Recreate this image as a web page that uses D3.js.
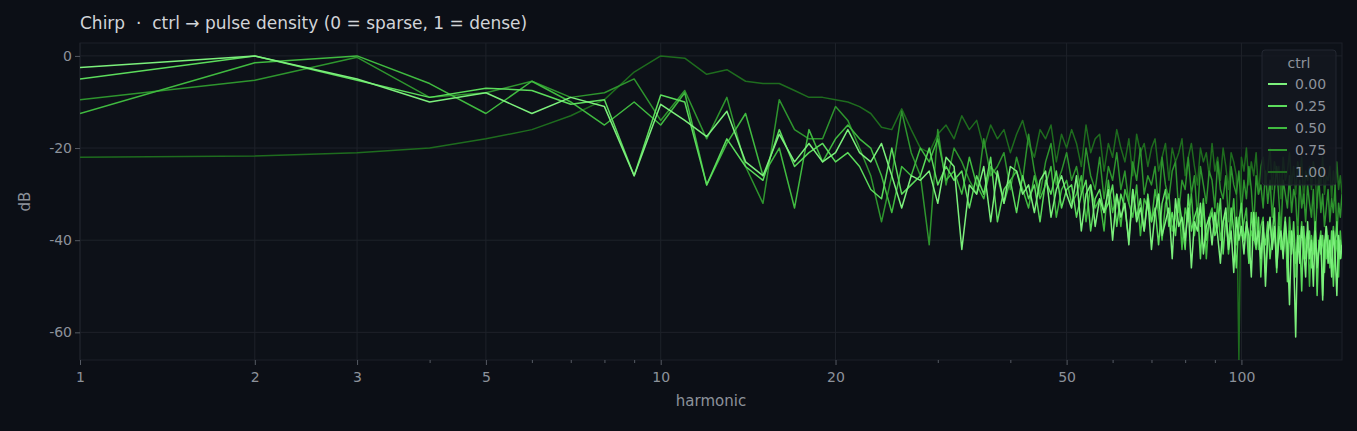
<!DOCTYPE html>
<html>
<head>
<meta charset="utf-8">
<title>chirp</title>
<style>
  body { margin: 0; background: #0c0f16; }
  text { font-family: "DejaVu Sans", sans-serif; }
</style>
</head>
<body>
<script src="https://cdnjs.cloudflare.com/ajax/libs/d3/7.8.5/d3.min.js"></script>
<script>
const width = 1357, height = 431;
const m = { left: 80, right: 15, top: 43, bottom: 71 };

const ctrlLabels = ["0.00", "0.25", "0.50", "0.75", "1.00"];
const colors = ["#7cf07c", "#5cdc5c", "#40ba40", "#2e952e", "#1e6c1e"];
const xTicks = [1, 2, 3, 5, 10, 20, 50, 100];
const minorTicks = [4, 6, 7, 8, 9, 30, 40, 60, 70, 80, 90];
const yTicks = [0, -20, -40, -60];

// dB per harmonic 1..149
const s000 = [
  -2.5,0,-5,-10,-8,-12.5,-9,-11,-26,-10.5,
  -14,-17.5,-12,-23,-26,-17,-23,-19,-23,-21,
  -16,-21,-23,-19,-26,-33,-26,-27,-25,-32,
  -22,-24,-42,-28,-30,-24,-36,-25,-32,-24,
  -25,-30,-28,-34,-27,-25,-35,-29,-26,-30,
  -33,-26,-38,-30,-28,-37,-31,-34,-29,-40,
  -30,-35,-32,-41,-29,-36,-33,-38,-31,-42,
  -34,-30,-39,-36,-33,-44,-31,-37,-35,-40,
  -33,-46,-36,-38,-32,-43,-37,-35,-41,-34,
  -39,-45,-36,-33,-42,-38,-47,-35,-40,-37,
  -43,-36,-39,-48,-34,-41,-38,-44,-36,-50,
  -39,-35,-42,-37,-46,-40,-38,-44,-36,-41,
  -54,-38,-43,-61,-39,-45,-37,-42,-48,-36,
  -44,-40,-50,-38,-46,-42,-39,-53,-41,-37,
  -45,-40,-48,-38,-43,-52,-39,-44,-41];
const s025 = [
  -5,0,-5.3,-9,-7,-7.5,-10.5,-9.5,-26,-8.5,
  -10,-28,-18,-24,-27,-16,-24,-21,-19,-23,
  -21,-24,-29,-31,-20,-30,-28,-26,-20,-28,
  -24,-27,-25,-33,-26,-30,-22,-36,-29,-27,
  -34,-26,-31,-28,-36,-27,-30,-25,-33,-29,
  -28,-35,-30,-27,-38,-31,-29,-34,-32,-28,
  -37,-30,-33,-40,-29,-35,-31,-38,-30,-36,
  -33,-41,-32,-29,-37,-34,-39,-31,-36,-42,
  -30,-38,-35,-33,-44,-32,-40,-36,-34,-39,
  -37,-31,-43,-35,-41,-33,-38,-46,-36,-32,
  -40,-37,-45,-34,-39,-42,-35,-48,-38,-41,
  -36,-44,-39,-33,-47,-37,-42,-40,-35,-49,
  -38,-43,-36,-45,-40,-39,-51,-37,-44,-41,
  -38,-46,-42,-36,-52,-40,-43,-39,-47,-37,
  -42,-45,-38,-50,-41,-36,-44,-40,-43];
const s050 = [
  -12.5,-1.5,0,-6,-12.5,-5.5,-10,-15,-10,-15,
  -8,-28,-19,-12.5,-26,-20,-33,-16,-23,-18,
  -15,-18,-20,-26,-34,-24,-26,-20,-23,-18,
  -27,-25,-30,-22,-28,-31,-24,-26,-32,-27,
  -25,-29,-33,-26,-31,-28,-24,-35,-29,-27,
  -32,-30,-26,-36,-28,-33,-31,-38,-27,-34,
  -30,-37,-29,-32,-35,-28,-39,-31,-33,-36,
  -29,-34,-40,-32,-30,-38,-35,-31,-42,-33,
  -36,-30,-39,-34,-37,-31,-44,-35,-33,-38,
  -32,-40,-36,-34,-43,-37,-31,-41,-35,-39,
  -36,-33,-45,-38,-40,-34,-42,-37,-35,-47,
  -39,-36,-41,-38,-44,-34,-40,-43,-37,-46,
  -35,-41,-39,-48,-37,-42,-36,-44,-40,-38,
  -50,-39,-43,-37,-45,-41,-38,-52,-40,-44,
  -39,-46,-41,-37,-43,-40,-48,-38,-44];
const s075 = [
  -9.5,-5.3,-0.3,-9,-8,-5.5,-9,-8,-5,-14,
  -7.5,-18,-9,-24,-32,-9.5,-16,-18,-18,-11,
  -14,-20,-26,-36,-26,-12,-21,-26,-41,-16,
  -28,-20,-23,-27,-30,-18,-26,-24,-21,-29,
  -22,-27,-17,-25,-30,-23,-19,-28,-25,-21,
  -27,-24,-30,-20,-26,-29,-22,-31,-24,-27,
  -21,-29,-25,-32,-23,-27,-20,-30,-26,-28,
  -24,-33,-22,-28,-31,-25,-23,-34,-27,-29,
  -22,-30,-26,-35,-24,-28,-32,-25,-27,-33,
  -23,-29,-31,-26,-36,-24,-28,-30,-25,-34,
  -27,-31,-24,-29,-37,-26,-30,-28,-33,-25,
  -32,-27,-35,-29,-24,-31,-38,-27,-30,-33,
  -26,-34,-29,-31,-39,-27,-33,-30,-36,-28,
  -32,-35,-29,-40,-31,-27,-34,-30,-37,-33,
  -29,-36,-31,-34,-28,-39,-32,-35,-30];
const s100 = [
  -22,-21.7,-21,-20,-18,-16,-13,-9.5,-3.5,0,
  -0.5,-4,-3,-5.5,-6,-6,-7.5,-9,-9,-9.5,
  -10,-11,-12.5,-15.5,-16,-11.5,-16,-20,-21,-17,
  -15,-18,-13,-16,-14,-20,-15,-18,-16,-21,
  -17,-14,-19,-22,-16,-18,-15,-23,-17,-20,
  -16,-19,-24,-15,-21,-18,-17,-25,-19,-22,
  -16,-20,-23,-18,-26,-17,-21,-19,-24,-20,
  -18,-25,-22,-19,-27,-20,-23,-21,-18,-26,
  -22,-19,-24,-28,-20,-23,-21,-26,-19,-25,
  -22,-27,-20,-24,-29,-21,-23,-26,-66,-22,
  -25,-20,-28,-23,-26,-21,-30,-24,-22,-27,
  -25,-20,-29,-23,-26,-24,-31,-22,-27,-25,
  -21,-28,-24,-30,-23,-26,-22,-32,-25,-27,
  -24,-29,-23,-26,-33,-25,-28,-22,-30,-26,
  -27,-24,-31,-25,-28,-23,-29,-26,-30];
const series = [s000, s025, s050, s075, s100];

const svg = d3.select("body").append("svg").attr("width", width).attr("height", height);
svg.append("rect").attr("width", width).attr("height", height).attr("fill", "#0c0f16");

const x = d3.scaleLog().domain([1, 149]).range([m.left, width - m.right]);
const y = d3.scaleLinear().domain([-66, 2.8]).range([height - m.bottom, m.top]);

const g = svg.append("g");
g.append("rect").attr("x", m.left).attr("y", m.top)
  .attr("width", width - m.left - m.right).attr("height", height - m.top - m.bottom)
  .attr("fill", "#0d1118").attr("stroke", "#1c2029");

g.selectAll(".vg").data(xTicks).enter().append("line")
  .attr("x1", d => x(d)).attr("x2", d => x(d))
  .attr("y1", m.top).attr("y2", height - m.bottom)
  .attr("stroke", "#1e222a");
g.selectAll(".hg").data(yTicks).enter().append("line")
  .attr("x1", m.left).attr("x2", width - m.right)
  .attr("y1", d => y(d)).attr("y2", d => y(d))
  .attr("stroke", "#1e222a");

const xAxis = svg.append("g").attr("transform", `translate(0,${height - m.bottom})`)
  .call(d3.axisBottom(x).tickValues(xTicks).tickFormat(d3.format("d")).tickSize(5));
svg.append("g").attr("transform", `translate(0,${height - m.bottom})`)
  .call(d3.axisBottom(x).tickValues(minorTicks).tickFormat("").tickSize(3))
  .call(a => a.select(".domain").remove())
  .selectAll("line").attr("stroke", "#555a63");
const yAxis = svg.append("g").attr("transform", `translate(${m.left},0)`)
  .call(d3.axisLeft(y).tickValues(yTicks).tickFormat(d => String(d)).tickSize(5));
[xAxis, yAxis].forEach(a => {
  a.select(".domain").remove();
  a.selectAll("line").attr("stroke", "#555a63");
  a.selectAll("text").attr("fill", "#8d929b").style("font-size", "14px");
});
xAxis.selectAll("text").attr("dy", "1em");

svg.append("text").attr("x", (m.left + width - m.right) / 2).attr("y", 406)
  .attr("text-anchor", "middle").attr("fill", "#8d929b").style("font-size", "15px").text("harmonic");
svg.append("text").attr("transform", `translate(30,${(m.top + height - m.bottom) / 2}) rotate(-90)`)
  .attr("text-anchor", "middle").attr("fill", "#8d929b").style("font-size", "15px").text("dB");
svg.append("text").attr("x", 80).attr("y", 29).attr("fill", "#d2d4d8")
  .style("font-size", "17px").style("white-space", "pre")
  .text("Chirp  ·  ctrl → pulse density (0 = sparse, 1 = dense)");

svg.append("defs").append("clipPath").attr("id", "clip").append("rect")
  .attr("x", m.left).attr("y", m.top).attr("width", width - m.left - m.right)
  .attr("height", height - m.top - m.bottom);

const line = d3.line().x((d, i) => x(i + 1)).y(d => y(d));
const lines = svg.append("g").attr("clip-path", "url(#clip)");
series.slice().reverse().forEach((s, k) => {
  const i = series.length - 1 - k;
  lines.append("path").datum(s).attr("d", line)
    .attr("fill", "none").attr("stroke", colors[i]).attr("stroke-width", 1.5)
    .attr("stroke-linejoin", "round");
});

const lg = svg.append("g").attr("transform", "translate(1262,50)");
lg.append("rect").attr("width", 74).attr("height", 135).attr("rx", 3)
  .attr("fill", "#141820").attr("fill-opacity", 0.85).attr("stroke", "#232731");
lg.append("text").attr("x", 37).attr("y", 18).attr("text-anchor", "middle")
  .attr("fill", "#8d929b").style("font-size", "14px").text("ctrl");
ctrlLabels.forEach((c, i) => {
  const yy = 34 + i * 22;
  lg.append("line").attr("x1", 6).attr("x2", 25).attr("y1", yy).attr("y2", yy)
    .attr("stroke", colors[i]).attr("stroke-width", 2);
  lg.append("text").attr("x", 33).attr("y", yy + 5).attr("fill", "#8d929b")
    .style("font-size", "14px").text(c);
});
</script>
</body>
</html>
